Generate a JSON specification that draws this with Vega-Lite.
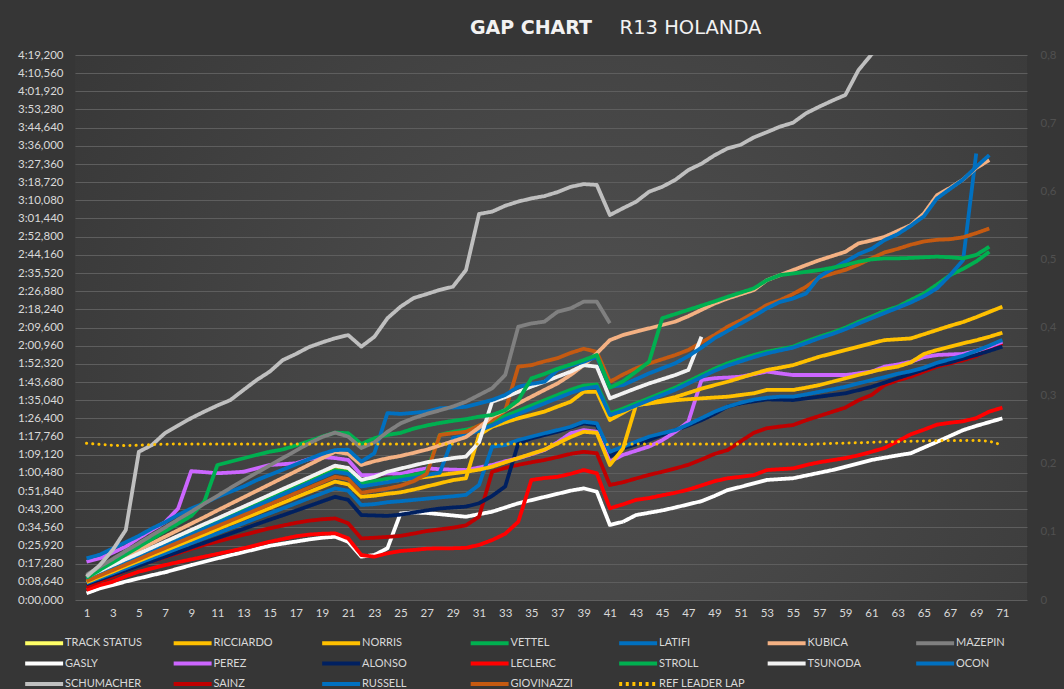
{
"$schema": "https://vega.github.io/schema/vega-lite/v6.json",
"width": 952, "height": 545,
"autosize": {"type": "none"},
"padding": {"left": 75, "top": 55, "right": 37, "bottom": 89},
"background": "#363636",
"config": {
  "view": {"stroke": null, "fill": {"gradient": "radial", "x1": 0.55, "y1": 0.55, "x2": 0.55, "y2": 0.55, "r1": 0, "r2": 0.8, "stops": [{"offset": 0, "color": "#515151"}, {"offset": 1, "color": "#323232"}]}},
  "font": "Lato"
},
"data": {"values": [
{"lap":1,"TS":0,"GASLY":3.2,"LECLERC":4.8,"SAINZ":6.3,"ALONSO":7.5,"PEREZ":18.2,"OCON":8,"NORRIS":8.5,"RICCIARDO":10.5,"STROLL":10,"LATIFI":9.5,"GIOVINAZZI":9,"KUBICA":11.5,"TSUNODA":11,"RUSSELL":19.8,"VETTEL":10.5,"MAZEPIN":12,"SCHUMACHER":11.1,"REF LEADER LAP":74.5},
{"lap":2,"TS":0,"GASLY":5.5,"LECLERC":7,"SAINZ":8.8,"ALONSO":9.7,"PEREZ":19.8,"OCON":10.4,"NORRIS":11,"RICCIARDO":13.2,"STROLL":12.7,"LATIFI":12.2,"GIOVINAZZI":11.6,"KUBICA":14.6,"TSUNODA":13.8,"RUSSELL":21.5,"VETTEL":14.2,"MAZEPIN":15.8,"SCHUMACHER":16.5,"REF LEADER LAP":74},
{"lap":3,"TS":0,"GASLY":7.1,"LECLERC":8.7,"SAINZ":11.1,"ALONSO":11.9,"PEREZ":22.5,"OCON":12.7,"NORRIS":13.5,"RICCIARDO":16,"STROLL":15.5,"LATIFI":14.9,"GIOVINAZZI":14.2,"KUBICA":17.7,"TSUNODA":16.6,"RUSSELL":24.5,"VETTEL":17.9,"MAZEPIN":19.5,"SCHUMACHER":23.8,"REF LEADER LAP":73.6},
{"lap":4,"TS":0,"GASLY":8.8,"LECLERC":11.3,"SAINZ":14,"ALONSO":14.1,"PEREZ":25.4,"OCON":15.1,"NORRIS":16.1,"RICCIARDO":18.7,"STROLL":18.2,"LATIFI":17.6,"GIOVINAZZI":16.8,"KUBICA":20.8,"TSUNODA":19.4,"RUSSELL":27.5,"VETTEL":21.6,"MAZEPIN":23.3,"SCHUMACHER":33.3,"REF LEADER LAP":73.4},
{"lap":5,"TS":0,"GASLY":10.3,"LECLERC":13.5,"SAINZ":16.6,"ALONSO":16.3,"PEREZ":29.5,"OCON":17.5,"NORRIS":18.6,"RICCIARDO":21.5,"STROLL":20.9,"LATIFI":20.3,"GIOVINAZZI":19.4,"KUBICA":23.9,"TSUNODA":22.1,"RUSSELL":30.5,"VETTEL":25.3,"MAZEPIN":27,"SCHUMACHER":70.5,"REF LEADER LAP":73.6},
{"lap":6,"TS":0,"GASLY":11.8,"LECLERC":15,"SAINZ":18.5,"ALONSO":18.5,"PEREZ":33.3,"OCON":19.9,"NORRIS":21.1,"RICCIARDO":24.2,"STROLL":23.6,"LATIFI":23.1,"GIOVINAZZI":22.1,"KUBICA":27,"TSUNODA":24.9,"RUSSELL":34,"VETTEL":29,"MAZEPIN":30.8,"SCHUMACHER":73.7,"REF LEADER LAP":73.9},
{"lap":7,"TS":0,"GASLY":13.2,"LECLERC":16.6,"SAINZ":20.3,"ALONSO":20.6,"PEREZ":37,"OCON":22.2,"NORRIS":23.6,"RICCIARDO":27,"STROLL":26.4,"LATIFI":25.8,"GIOVINAZZI":24.7,"KUBICA":30.1,"TSUNODA":27.7,"RUSSELL":37,"VETTEL":32.7,"MAZEPIN":34.5,"SCHUMACHER":79.4,"REF LEADER LAP":74.1},
{"lap":8,"TS":0,"GASLY":14.9,"LECLERC":18,"SAINZ":22.3,"ALONSO":22.8,"PEREZ":43.5,"OCON":24.6,"NORRIS":26.1,"RICCIARDO":29.7,"STROLL":29.1,"LATIFI":28.5,"GIOVINAZZI":27.3,"KUBICA":33.2,"TSUNODA":30.5,"RUSSELL":40.5,"VETTEL":36.4,"MAZEPIN":38.3,"SCHUMACHER":83,"REF LEADER LAP":74.2},
{"lap":9,"TS":0,"GASLY":16.6,"LECLERC":19.3,"SAINZ":24.3,"ALONSO":25,"PEREZ":61.3,"OCON":27,"NORRIS":28.6,"RICCIARDO":32.4,"STROLL":31.8,"LATIFI":31.2,"GIOVINAZZI":29.9,"KUBICA":36.3,"TSUNODA":33.3,"RUSSELL":43.5,"VETTEL":40,"MAZEPIN":42,"SCHUMACHER":86.5,"REF LEADER LAP":74.2},
{"lap":10,"TS":0,"GASLY":18.2,"LECLERC":20.6,"SAINZ":26.2,"ALONSO":27.2,"PEREZ":60.8,"OCON":29.4,"NORRIS":31.1,"RICCIARDO":35.2,"STROLL":34.5,"LATIFI":33.9,"GIOVINAZZI":32.5,"KUBICA":39.4,"TSUNODA":36.1,"RUSSELL":46,"VETTEL":46.8,"MAZEPIN":45.8,"SCHUMACHER":89.6,"REF LEADER LAP":74.2},
{"lap":11,"TS":0,"GASLY":19.8,"LECLERC":21.9,"SAINZ":27.8,"ALONSO":29.4,"PEREZ":60.3,"OCON":31.7,"NORRIS":33.7,"RICCIARDO":37.9,"STROLL":37.3,"LATIFI":36.6,"GIOVINAZZI":35.1,"KUBICA":42.6,"TSUNODA":38.8,"RUSSELL":49,"VETTEL":64.2,"MAZEPIN":49.5,"SCHUMACHER":92.5,"REF LEADER LAP":74.2},
{"lap":12,"TS":0,"GASLY":21.3,"LECLERC":23.2,"SAINZ":29.4,"ALONSO":31.6,"PEREZ":60.6,"OCON":34.1,"NORRIS":36.2,"RICCIARDO":40.7,"STROLL":40,"LATIFI":39.3,"GIOVINAZZI":37.7,"KUBICA":45.7,"TSUNODA":41.6,"RUSSELL":51.5,"VETTEL":65.8,"MAZEPIN":53.3,"SCHUMACHER":95.1,"REF LEADER LAP":74.2},
{"lap":13,"TS":0,"GASLY":22.8,"LECLERC":24.6,"SAINZ":31,"ALONSO":33.8,"PEREZ":61,"OCON":36.5,"NORRIS":38.7,"RICCIARDO":43.4,"STROLL":42.7,"LATIFI":42,"GIOVINAZZI":40.3,"KUBICA":48.8,"TSUNODA":44.4,"RUSSELL":54,"VETTEL":67.4,"MAZEPIN":57,"SCHUMACHER":99.9,"REF LEADER LAP":74.2},
{"lap":14,"TS":0,"GASLY":24.3,"LECLERC":26.1,"SAINZ":32.5,"ALONSO":36,"PEREZ":62.6,"OCON":38.9,"NORRIS":41.2,"RICCIARDO":46.2,"STROLL":45.4,"LATIFI":44.7,"GIOVINAZZI":42.9,"KUBICA":51.9,"TSUNODA":47.2,"RUSSELL":57,"VETTEL":69,"MAZEPIN":60.5,"SCHUMACHER":104.6,"REF LEADER LAP":74.2},
{"lap":15,"TS":0,"GASLY":25.8,"LECLERC":27.7,"SAINZ":34.1,"ALONSO":38.2,"PEREZ":64.2,"OCON":41.2,"NORRIS":43.7,"RICCIARDO":48.9,"STROLL":48.2,"LATIFI":47.4,"GIOVINAZZI":45.5,"KUBICA":55,"TSUNODA":50,"RUSSELL":59.5,"VETTEL":70.5,"MAZEPIN":64,"SCHUMACHER":108.6,"REF LEADER LAP":74.2},
{"lap":16,"TS":0,"GASLY":26.8,"LECLERC":29,"SAINZ":35.4,"ALONSO":40.3,"PEREZ":64.6,"OCON":43.6,"NORRIS":46.2,"RICCIARDO":51.6,"STROLL":50.9,"LATIFI":50.2,"GIOVINAZZI":48.2,"KUBICA":58.1,"TSUNODA":52.8,"RUSSELL":62,"VETTEL":71.6,"MAZEPIN":67.5,"SCHUMACHER":114.1,"REF LEADER LAP":74.2},
{"lap":17,"TS":0,"GASLY":27.8,"LECLERC":30.3,"SAINZ":36.7,"ALONSO":42.5,"PEREZ":65,"OCON":46,"NORRIS":48.8,"RICCIARDO":54.4,"STROLL":53.6,"LATIFI":52.9,"GIOVINAZZI":50.8,"KUBICA":61.2,"TSUNODA":55.5,"RUSSELL":64.5,"VETTEL":73.5,"MAZEPIN":71,"SCHUMACHER":117,"REF LEADER LAP":74.2},
{"lap":18,"TS":0,"GASLY":28.8,"LECLERC":31.1,"SAINZ":37.7,"ALONSO":44.7,"PEREZ":67,"OCON":48.4,"NORRIS":51.3,"RICCIARDO":57.1,"STROLL":56.3,"LATIFI":55.6,"GIOVINAZZI":53.4,"KUBICA":64.3,"TSUNODA":58.3,"RUSSELL":67,"VETTEL":75.5,"MAZEPIN":74.5,"SCHUMACHER":120.3,"REF LEADER LAP":74.2},
{"lap":19,"TS":0,"GASLY":29.6,"LECLERC":31.5,"SAINZ":38.4,"ALONSO":46.9,"PEREZ":68,"OCON":50.7,"NORRIS":53.8,"RICCIARDO":59.9,"STROLL":59.1,"LATIFI":58.3,"GIOVINAZZI":56,"KUBICA":67.4,"TSUNODA":61.1,"RUSSELL":69.5,"VETTEL":77.7,"MAZEPIN":77.5,"SCHUMACHER":122.5,"REF LEADER LAP":74.2},
{"lap":20,"TS":0,"GASLY":30.1,"LECLERC":31.7,"SAINZ":38.8,"ALONSO":49.1,"PEREZ":67.5,"OCON":53.1,"NORRIS":56.3,"RICCIARDO":62.6,"STROLL":61.8,"LATIFI":61,"GIOVINAZZI":58.6,"KUBICA":70.5,"TSUNODA":63.9,"RUSSELL":71.3,"VETTEL":79.6,"MAZEPIN":79.6,"SCHUMACHER":124.5,"REF LEADER LAP":74.2},
{"lap":21,"TS":0,"GASLY":27.7,"LECLERC":29.3,"SAINZ":36.5,"ALONSO":47.6,"PEREZ":66.6,"OCON":52,"NORRIS":55,"RICCIARDO":61.5,"STROLL":61,"LATIFI":60,"GIOVINAZZI":57.5,"KUBICA":69.5,"TSUNODA":62.8,"RUSSELL":71.5,"VETTEL":79.3,"MAZEPIN":77.7,"SCHUMACHER":126,"REF LEADER LAP":74.2},
{"lap":22,"TS":0,"GASLY":20.6,"LECLERC":21.4,"SAINZ":29.3,"ALONSO":40.4,"PEREZ":59.4,"OCON":45.2,"NORRIS":49.1,"RICCIARDO":55,"STROLL":55.5,"LATIFI":54,"GIOVINAZZI":51,"KUBICA":64.2,"TSUNODA":57.1,"RUSSELL":65.8,"VETTEL":74.2,"MAZEPIN":72.3,"SCHUMACHER":120.5,"REF LEADER LAP":74.2},
{"lap":23,"TS":0,"GASLY":21.4,"LECLERC":20.6,"SAINZ":29.6,"ALONSO":40.2,"PEREZ":59.4,"OCON":45.6,"NORRIS":49.6,"RICCIARDO":55.8,"STROLL":56.5,"LATIFI":55,"GIOVINAZZI":52,"KUBICA":66,"TSUNODA":58.5,"RUSSELL":69.8,"VETTEL":76.9,"MAZEPIN":75,"SCHUMACHER":125.2,"REF LEADER LAP":74.2},
{"lap":24,"TS":0,"GASLY":24.6,"LECLERC":22.2,"SAINZ":30,"ALONSO":40,"PEREZ":60.3,"OCON":46.5,"NORRIS":50.5,"RICCIARDO":56.8,"STROLL":57.7,"LATIFI":56,"GIOVINAZZI":53,"KUBICA":67.4,"TSUNODA":61,"RUSSELL":88.9,"VETTEL":78.5,"MAZEPIN":80,"SCHUMACHER":134,"REF LEADER LAP":74.2},
{"lap":25,"TS":0,"GASLY":41.2,"LECLERC":23.3,"SAINZ":30.5,"ALONSO":40.6,"PEREZ":60,"OCON":47,"NORRIS":51.2,"RICCIARDO":57,"STROLL":58.5,"LATIFI":57,"GIOVINAZZI":54.3,"KUBICA":68.5,"TSUNODA":62.5,"RUSSELL":88.5,"VETTEL":79.5,"MAZEPIN":84,"SCHUMACHER":139.5,"REF LEADER LAP":74.2},
{"lap":26,"TS":0,"GASLY":41.6,"LECLERC":23.8,"SAINZ":31.6,"ALONSO":41.6,"PEREZ":61.5,"OCON":47.6,"NORRIS":52.5,"RICCIARDO":57.8,"STROLL":59.5,"LATIFI":58,"GIOVINAZZI":56.5,"KUBICA":70,"TSUNODA":64,"RUSSELL":89,"VETTEL":81.5,"MAZEPIN":86.5,"SCHUMACHER":143.6,"REF LEADER LAP":74.2},
{"lap":27,"TS":0,"GASLY":41.4,"LECLERC":24.4,"SAINZ":32.8,"ALONSO":42.6,"PEREZ":62.6,"OCON":48.2,"NORRIS":54,"RICCIARDO":58.6,"STROLL":61,"LATIFI":59.5,"GIOVINAZZI":60,"KUBICA":71.5,"TSUNODA":65.5,"RUSSELL":89.6,"VETTEL":83,"MAZEPIN":88.5,"SCHUMACHER":145.5,"REF LEADER LAP":74.2},
{"lap":28,"TS":0,"GASLY":40.8,"LECLERC":24.6,"SAINZ":33.6,"ALONSO":43.5,"PEREZ":62.2,"OCON":48.8,"NORRIS":55.5,"RICCIARDO":59.4,"STROLL":78.5,"LATIFI":60.5,"GIOVINAZZI":78.5,"KUBICA":73.5,"TSUNODA":66.5,"RUSSELL":91.2,"VETTEL":84.2,"MAZEPIN":90.2,"SCHUMACHER":147.5,"REF LEADER LAP":74.2},
{"lap":29,"TS":0,"GASLY":40.2,"LECLERC":24.6,"SAINZ":34.4,"ALONSO":44,"PEREZ":62,"OCON":49.3,"NORRIS":57,"RICCIARDO":60.2,"STROLL":80,"LATIFI":77,"GIOVINAZZI":79.3,"KUBICA":75.5,"TSUNODA":67.5,"RUSSELL":91.5,"VETTEL":85.2,"MAZEPIN":92,"SCHUMACHER":149,"REF LEADER LAP":74.2},
{"lap":30,"TS":0,"GASLY":39.6,"LECLERC":24.8,"SAINZ":35.5,"ALONSO":44.4,"PEREZ":61.8,"OCON":50,"NORRIS":57.9,"RICCIARDO":61,"STROLL":81,"LATIFI":78.5,"GIOVINAZZI":80,"KUBICA":77.5,"TSUNODA":68.2,"RUSSELL":91.9,"VETTEL":86,"MAZEPIN":94.3,"SCHUMACHER":156.9,"REF LEADER LAP":74.2},
{"lap":31,"TS":0,"GASLY":40.8,"LECLERC":26.2,"SAINZ":39.6,"ALONSO":46,"PEREZ":63,"OCON":54.7,"NORRIS":78.5,"RICCIARDO":62,"STROLL":82.5,"LATIFI":80.5,"GIOVINAZZI":83,"KUBICA":82,"TSUNODA":75,"RUSSELL":93.5,"VETTEL":87.2,"MAZEPIN":97.5,"SCHUMACHER":183.6,"REF LEADER LAP":74.2},
{"lap":32,"TS":0,"GASLY":42,"LECLERC":28.5,"SAINZ":61,"ALONSO":49.5,"PEREZ":64.2,"OCON":72.9,"NORRIS":82.4,"RICCIARDO":63.4,"STROLL":85,"LATIFI":83,"GIOVINAZZI":85.5,"KUBICA":87.2,"TSUNODA":94.3,"RUSSELL":95.1,"VETTEL":88,"MAZEPIN":100.7,"SCHUMACHER":184.7,"REF LEADER LAP":74.2},
{"lap":33,"TS":0,"GASLY":44,"LECLERC":31.5,"SAINZ":62.8,"ALONSO":54,"PEREZ":66,"OCON":73.7,"NORRIS":84.5,"RICCIARDO":65.5,"STROLL":87.5,"LATIFI":86,"GIOVINAZZI":90,"KUBICA":90.3,"TSUNODA":96.5,"RUSSELL":97.5,"VETTEL":90.3,"MAZEPIN":107,"SCHUMACHER":187.5,"REF LEADER LAP":74.2},
{"lap":34,"TS":0,"GASLY":46,"LECLERC":37.2,"SAINZ":64.3,"ALONSO":74.5,"PEREZ":67.4,"OCON":76.1,"NORRIS":86.4,"RICCIARDO":67.5,"STROLL":90,"LATIFI":88.5,"GIOVINAZZI":111,"KUBICA":93.5,"TSUNODA":99,"RUSSELL":101.4,"VETTEL":95,"MAZEPIN":130,"SCHUMACHER":189.5,"REF LEADER LAP":74.2},
{"lap":35,"TS":0,"GASLY":47.5,"LECLERC":57.1,"SAINZ":65.5,"ALONSO":76.9,"PEREZ":69.3,"OCON":77.7,"NORRIS":88,"RICCIARDO":69.5,"STROLL":92.5,"LATIFI":91,"GIOVINAZZI":111.7,"KUBICA":96.7,"TSUNODA":101.5,"RUSSELL":102.8,"VETTEL":105.4,"MAZEPIN":131.5,"SCHUMACHER":191,"REF LEADER LAP":74.2},
{"lap":36,"TS":0,"GASLY":49,"LECLERC":58,"SAINZ":66.6,"ALONSO":78.5,"PEREZ":71.3,"OCON":79.3,"NORRIS":89.6,"RICCIARDO":71.5,"STROLL":95,"LATIFI":93.5,"GIOVINAZZI":113.5,"KUBICA":99.9,"TSUNODA":103.8,"RUSSELL":103.8,"VETTEL":107.5,"MAZEPIN":132.4,"SCHUMACHER":192.1,"REF LEADER LAP":74.2},
{"lap":37,"TS":0,"GASLY":50.5,"LECLERC":58.6,"SAINZ":68,"ALONSO":80,"PEREZ":75,"OCON":80.8,"NORRIS":92,"RICCIARDO":74.5,"STROLL":97.5,"LATIFI":96,"GIOVINAZZI":115,"KUBICA":103,"TSUNODA":106.2,"RUSSELL":109.4,"VETTEL":110,"MAZEPIN":137.1,"SCHUMACHER":194,"REF LEADER LAP":74.2},
{"lap":38,"TS":0,"GASLY":52,"LECLERC":60,"SAINZ":69.5,"ALONSO":82,"PEREZ":79.3,"OCON":82.4,"NORRIS":94.3,"RICCIARDO":77.5,"STROLL":100,"LATIFI":98.5,"GIOVINAZZI":117.5,"KUBICA":107,"TSUNODA":108.6,"RUSSELL":111.5,"VETTEL":112,"MAZEPIN":138.7,"SCHUMACHER":196.5,"REF LEADER LAP":74.2},
{"lap":39,"TS":0,"GASLY":53.1,"LECLERC":61.8,"SAINZ":70.5,"ALONSO":84,"PEREZ":80.8,"OCON":84.8,"NORRIS":99,"RICCIARDO":80,"STROLL":102,"LATIFI":100.5,"GIOVINAZZI":119.5,"KUBICA":111.7,"TSUNODA":111.7,"RUSSELL":113.3,"VETTEL":114.1,"MAZEPIN":141.9,"SCHUMACHER":197.8,"REF LEADER LAP":74.2},
{"lap":40,"TS":0,"GASLY":51.5,"LECLERC":60.3,"SAINZ":69.8,"ALONSO":83.2,"PEREZ":80,"OCON":84,"NORRIS":99,"RICCIARDO":79.5,"STROLL":102.5,"LATIFI":101.5,"GIOVINAZZI":118,"KUBICA":117.3,"TSUNODA":111,"RUSSELL":115.7,"VETTEL":116.5,"MAZEPIN":141.9,"SCHUMACHER":197.4,"REF LEADER LAP":74},
{"lap":41,"TS":0,"GASLY":35.7,"LECLERC":43.6,"SAINZ":54.7,"ALONSO":68.2,"PEREZ":65.8,"OCON":70.5,"NORRIS":85.6,"RICCIARDO":64.2,"STROLL":88.8,"LATIFI":88,"GIOVINAZZI":103.8,"KUBICA":123.6,"TSUNODA":95.9,"RUSSELL":101.4,"VETTEL":101,"MAZEPIN":131.6,"SCHUMACHER":183.1,"REF LEADER LAP":74},
{"lap":42,"TS":0,"GASLY":37.2,"LECLERC":45.5,"SAINZ":56,"ALONSO":72.1,"PEREZ":69,"OCON":72.9,"NORRIS":89,"RICCIARDO":72,"STROLL":91,"LATIFI":90,"GIOVINAZZI":107.2,"KUBICA":126,"TSUNODA":98.3,"RUSSELL":102.2,"VETTEL":104,"SCHUMACHER":186.3,"REF LEADER LAP":74.2},
{"lap":43,"TS":0,"GASLY":40.4,"LECLERC":47.6,"SAINZ":57.8,"ALONSO":74,"PEREZ":71,"OCON":75.3,"NORRIS":92.7,"RICCIARDO":92.7,"STROLL":93.5,"LATIFI":92.5,"GIOVINAZZI":110.2,"KUBICA":127.6,"TSUNODA":100.7,"RUSSELL":105,"VETTEL":108.6,"SCHUMACHER":189.4,"REF LEADER LAP":74.2},
{"lap":44,"TS":0,"GASLY":41.5,"LECLERC":48.5,"SAINZ":59.5,"ALONSO":76.1,"PEREZ":73,"OCON":77.7,"NORRIS":93.5,"RICCIARDO":93.5,"STROLL":96,"LATIFI":95,"GIOVINAZZI":112.5,"KUBICA":129.2,"TSUNODA":103,"RUSSELL":107.8,"VETTEL":113.3,"SCHUMACHER":194.2,"REF LEADER LAP":74.2},
{"lap":45,"TS":0,"GASLY":42.6,"LECLERC":49.8,"SAINZ":61,"ALONSO":78.5,"PEREZ":76,"OCON":79.3,"NORRIS":94.3,"RICCIARDO":95,"STROLL":98.5,"LATIFI":97.5,"GIOVINAZZI":114.5,"KUBICA":130.8,"TSUNODA":105,"RUSSELL":110.2,"VETTEL":134,"SCHUMACHER":196.5,"REF LEADER LAP":74.2},
{"lap":46,"TS":0,"GASLY":44,"LECLERC":51,"SAINZ":62.6,"ALONSO":80.8,"PEREZ":80,"OCON":80.8,"NORRIS":95,"RICCIARDO":96.5,"STROLL":101,"LATIFI":100,"GIOVINAZZI":116.5,"KUBICA":132.4,"TSUNODA":107,"RUSSELL":112.6,"VETTEL":136,"SCHUMACHER":199.8,"REF LEADER LAP":74.2},
{"lap":47,"TS":0,"GASLY":45.5,"LECLERC":52.5,"SAINZ":64.3,"ALONSO":83,"PEREZ":84.8,"OCON":83.5,"NORRIS":95.5,"RICCIARDO":98.5,"STROLL":104,"LATIFI":103,"GIOVINAZZI":118.9,"KUBICA":135,"TSUNODA":109.4,"RUSSELL":116,"VETTEL":138,"SCHUMACHER":204.5,"REF LEADER LAP":74.2},
{"lap":48,"TS":0,"GASLY":47,"LECLERC":54.5,"SAINZ":66.8,"ALONSO":85.5,"PEREZ":104.6,"OCON":86.5,"NORRIS":95.9,"RICCIARDO":100.5,"STROLL":107,"LATIFI":106,"GIOVINAZZI":122.5,"KUBICA":138,"TSUNODA":125.2,"RUSSELL":120,"VETTEL":140,"SCHUMACHER":207.5,"REF LEADER LAP":74.2},
{"lap":49,"TS":0,"GASLY":49.5,"LECLERC":56.5,"SAINZ":69.5,"ALONSO":88.5,"PEREZ":105.5,"OCON":89.5,"NORRIS":96.3,"RICCIARDO":102.2,"STROLL":110,"LATIFI":109,"GIOVINAZZI":126,"KUBICA":141,"RUSSELL":124.5,"VETTEL":142,"SCHUMACHER":211.5,"REF LEADER LAP":74.2},
{"lap":50,"TS":0,"GASLY":52.3,"LECLERC":57.9,"SAINZ":71.3,"ALONSO":92,"PEREZ":105.8,"OCON":92,"NORRIS":96.7,"RICCIARDO":103.8,"STROLL":112.6,"LATIFI":111.5,"GIOVINAZZI":130,"KUBICA":143.4,"RUSSELL":128,"VETTEL":144.2,"SCHUMACHER":214.8,"REF LEADER LAP":74.2},
{"lap":51,"TS":0,"GASLY":53.8,"LECLERC":58.6,"SAINZ":75.5,"ALONSO":93.5,"PEREZ":106.2,"OCON":93.8,"NORRIS":97.5,"RICCIARDO":105.7,"STROLL":114.6,"LATIFI":113.5,"GIOVINAZZI":133,"KUBICA":145.4,"RUSSELL":131.5,"VETTEL":146.2,"SCHUMACHER":216.5,"REF LEADER LAP":74.2},
{"lap":52,"TS":0,"GASLY":55.5,"LECLERC":59.4,"SAINZ":79.5,"ALONSO":94.5,"PEREZ":107.4,"OCON":95.3,"NORRIS":98.3,"RICCIARDO":107.6,"STROLL":116.5,"LATIFI":115.5,"GIOVINAZZI":136.5,"KUBICA":147.4,"RUSSELL":135,"VETTEL":148.2,"SCHUMACHER":220,"REF LEADER LAP":74.2},
{"lap":53,"TS":0,"GASLY":57.1,"LECLERC":61.8,"SAINZ":81.7,"ALONSO":95.4,"PEREZ":108.6,"OCON":96.2,"NORRIS":99.9,"RICCIARDO":109.4,"STROLL":118.1,"LATIFI":117.3,"GIOVINAZZI":140.3,"KUBICA":152.1,"RUSSELL":138.7,"VETTEL":152.1,"SCHUMACHER":222.5,"REF LEADER LAP":74.2},
{"lap":54,"TS":0,"GASLY":57.5,"LECLERC":62.2,"SAINZ":82.5,"ALONSO":95.3,"PEREZ":107.8,"OCON":96.7,"NORRIS":99.9,"RICCIARDO":110.5,"STROLL":119.3,"LATIFI":118.7,"GIOVINAZZI":142.6,"KUBICA":154.5,"RUSSELL":141.8,"VETTEL":154.5,"SCHUMACHER":225.1,"REF LEADER LAP":74.2},
{"lap":55,"TS":0,"GASLY":57.9,"LECLERC":62.6,"SAINZ":83.2,"ALONSO":95.1,"PEREZ":107,"OCON":96.7,"NORRIS":99.9,"RICCIARDO":111.7,"STROLL":120.5,"LATIFI":120,"GIOVINAZZI":145.5,"KUBICA":156.9,"RUSSELL":143.4,"VETTEL":155.3,"SCHUMACHER":227,"REF LEADER LAP":74.2},
{"lap":56,"TS":0,"GASLY":59.2,"LECLERC":64.2,"SAINZ":85.5,"ALONSO":95.9,"PEREZ":107,"OCON":97.8,"NORRIS":101,"RICCIARDO":113.7,"STROLL":123,"LATIFI":122.2,"GIOVINAZZI":149,"KUBICA":159.3,"RUSSELL":145.8,"VETTEL":156.1,"SCHUMACHER":231.5,"REF LEADER LAP":74},
{"lap":57,"TS":0,"GASLY":60.5,"LECLERC":65.5,"SAINZ":87.5,"ALONSO":96.7,"PEREZ":107,"OCON":99,"NORRIS":102.2,"RICCIARDO":115.7,"STROLL":125.2,"LATIFI":124.5,"GIOVINAZZI":153.4,"KUBICA":161.6,"RUSSELL":153.7,"VETTEL":156.9,"SCHUMACHER":234.6,"REF LEADER LAP":74.2},
{"lap":58,"TS":0,"GASLY":61.8,"LECLERC":66.5,"SAINZ":89.5,"ALONSO":97.5,"PEREZ":107,"OCON":100.2,"NORRIS":103.8,"RICCIARDO":117.3,"STROLL":127.2,"LATIFI":126.5,"GIOVINAZZI":155.2,"KUBICA":163.6,"RUSSELL":157.5,"VETTEL":158,"SCHUMACHER":237.5,"REF LEADER LAP":74.5},
{"lap":59,"TS":0,"GASLY":63.4,"LECLERC":67.5,"SAINZ":91.5,"ALONSO":98.3,"PEREZ":107,"OCON":101.4,"NORRIS":105.4,"RICCIARDO":118.9,"STROLL":129.5,"LATIFI":128.8,"GIOVINAZZI":157,"KUBICA":165.6,"RUSSELL":160.9,"VETTEL":159.3,"SCHUMACHER":240.2,"REF LEADER LAP":74.6},
{"lap":60,"TS":0,"GASLY":65,"LECLERC":68.8,"SAINZ":95,"ALONSO":99.8,"PEREZ":107.8,"OCON":103,"NORRIS":107,"RICCIARDO":120.5,"STROLL":132.3,"LATIFI":131.5,"GIOVINAZZI":159.5,"KUBICA":169.6,"RUSSELL":164.5,"VETTEL":160.9,"SCHUMACHER":252,"REF LEADER LAP":74.8},
{"lap":61,"TS":0,"GASLY":66.6,"LECLERC":70.5,"SAINZ":97.5,"ALONSO":101.4,"PEREZ":108.6,"OCON":104.6,"NORRIS":108.6,"RICCIARDO":122.1,"STROLL":134.8,"LATIFI":134,"GIOVINAZZI":162.5,"KUBICA":171,"RUSSELL":167,"VETTEL":162,"SCHUMACHER":259.5,"REF LEADER LAP":75},
{"lap":62,"TS":0,"GASLY":67.7,"LECLERC":72.3,"SAINZ":102.2,"ALONSO":103.4,"PEREZ":111,"OCON":106,"NORRIS":110,"RICCIARDO":123.6,"STROLL":137.5,"LATIFI":136.5,"GIOVINAZZI":165.3,"KUBICA":172.7,"RUSSELL":171.2,"VETTEL":162.5,"SCHUMACHER":265,"REF LEADER LAP":75.2},
{"lap":63,"TS":0,"GASLY":68.8,"LECLERC":75.5,"SAINZ":104.5,"ALONSO":105.5,"PEREZ":112,"OCON":107.6,"NORRIS":111,"RICCIARDO":124,"STROLL":139.5,"LATIFI":139,"GIOVINAZZI":167,"KUBICA":175.5,"RUSSELL":174,"VETTEL":162.5,"SCHUMACHER":268,"REF LEADER LAP":75.3},
{"lap":64,"TS":0,"GASLY":69.8,"LECLERC":78.8,"SAINZ":106.2,"ALONSO":107.5,"PEREZ":113.3,"OCON":108.8,"NORRIS":113,"RICCIARDO":124.4,"STROLL":142.7,"LATIFI":141.5,"GIOVINAZZI":169,"KUBICA":178.3,"RUSSELL":178,"VETTEL":162.7,"SCHUMACHER":272,"REF LEADER LAP":75.5},
{"lap":65,"TS":0,"GASLY":72.5,"LECLERC":81,"SAINZ":108.6,"ALONSO":109.6,"PEREZ":115.5,"OCON":110.5,"NORRIS":117,"RICCIARDO":126.4,"STROLL":145.8,"LATIFI":144.5,"GIOVINAZZI":170.5,"KUBICA":183.8,"RUSSELL":182.5,"VETTEL":163,"SCHUMACHER":276,"REF LEADER LAP":75.6},
{"lap":66,"TS":0,"GASLY":75.2,"LECLERC":83.4,"SAINZ":111,"ALONSO":111.7,"PEREZ":116.5,"OCON":112.8,"NORRIS":118.9,"RICCIARDO":128.4,"STROLL":150,"LATIFI":148.2,"GIOVINAZZI":171.3,"KUBICA":192.5,"RUSSELL":191,"VETTEL":163.3,"SCHUMACHER":280,"REF LEADER LAP":75.8},
{"lap":67,"TS":0,"GASLY":78,"LECLERC":84.3,"SAINZ":112.5,"ALONSO":113,"PEREZ":116.8,"OCON":114.5,"NORRIS":120.5,"RICCIARDO":130.4,"STROLL":154.5,"LATIFI":154.5,"GIOVINAZZI":171.6,"KUBICA":196,"RUSSELL":195.5,"VETTEL":163,"SCHUMACHER":284,"REF LEADER LAP":75.8},
{"lap":68,"TS":0,"GASLY":80.8,"LECLERC":85,"SAINZ":114,"ALONSO":114.8,"PEREZ":117,"OCON":116.2,"NORRIS":122.1,"RICCIARDO":132.2,"STROLL":157.5,"LATIFI":161.7,"GIOVINAZZI":172.5,"KUBICA":200,"RUSSELL":200,"VETTEL":162.5,"SCHUMACHER":288,"REF LEADER LAP":75.8},
{"lap":69,"TS":0,"GASLY":82.8,"LECLERC":86.5,"SAINZ":116,"ALONSO":116.5,"PEREZ":118.5,"OCON":118.5,"NORRIS":123.5,"RICCIARDO":134.5,"STROLL":161,"LATIFI":212.4,"GIOVINAZZI":174.5,"KUBICA":205.5,"RUSSELL":206,"VETTEL":164.1,"SCHUMACHER":292,"REF LEADER LAP":75.9},
{"lap":70,"TS":0,"GASLY":84.6,"LECLERC":89.6,"SAINZ":119,"ALONSO":118.5,"PEREZ":120.5,"OCON":121,"NORRIS":125.2,"RICCIARDO":137,"STROLL":165.6,"GIOVINAZZI":176.7,"KUBICA":209.2,"RUSSELL":211.6,"VETTEL":168,"REF LEADER LAP":75.5},
{"lap":71,"TS":0,"GASLY":86.4,"LECLERC":91.5,"SAINZ":122.1,"ALONSO":120.5,"PEREZ":122.8,"OCON":123.7,"NORRIS":127.1,"RICCIARDO":139.5,"REF LEADER LAP":73.7}
]},
"encoding": {
  "x": {"field": "lap", "type": "quantitative", "scale": {"domain": [0.5, 72.5], "nice": false, "zero": false},
        "axis": {"values": [1,3,5,7,9,11,13,15,17,19,21,23,25,27,29,31,33,35,37,39,41,43,45,47,49,51,53,55,57,59,61,63,65,67,69,71], "format": "d", "grid": false, "domain": false, "ticks": false, "labelColor": "#D9D9D9", "labelFontSize": 11.5, "labelFont": "Lato", "labelPadding": 7, "title": null}}
},
"layer": [
  {"mark": {"type": "bar", "color": "#FFFF66"},
   "encoding": {"y": {"field": "TS", "type": "quantitative", "scale": {"domain": [0, 0.8], "nice": false},
     "axis": {"orient": "right", "values": [0,0.1,0.2,0.3,0.4,0.5,0.6,0.7,0.8], "labelExpr": "replace(format(datum.value, '.1~f'), '.', ',')", "grid": false, "domain": false, "ticks": false, "labelColor": "#505050", "labelFontSize": 11.5, "labelFont": "Lato", "labelPadding": 13,
       "title": "R13 HOLANDA", "titleAngle": 0, "titleX": -337, "titleY": -22, "titleAlign": "center", "titleBaseline": "alphabetic", "titleFont": "DejaVu Sans", "titleFontSize": 19.5, "titleFontWeight": "normal", "titleColor": "#F2F2F2"}}}},
  {"transform": [{"fold": ["GASLY","LECLERC","SAINZ","ALONSO","PEREZ","OCON","NORRIS","RICCIARDO","STROLL","LATIFI","GIOVINAZZI","KUBICA","TSUNODA","RUSSELL","VETTEL","MAZEPIN","SCHUMACHER"], "as": ["driver", "gap"]}],
   "mark": {"type": "line", "strokeWidth": 3.8, "clip": true, "strokeJoin": "round"},
   "encoding": {
     "y": {"field": "gap", "type": "quantitative", "scale": {"domain": [0, 259.2], "nice": false},
       "axis": {"orient": "left", "values": [0,8.64,17.28,25.92,34.56,43.2,51.84,60.48,69.12,77.76,86.4,95.04,103.68,112.32,120.96,129.6,138.24,146.88,155.52,164.16,172.8,181.44,190.08,198.72,207.36,216,224.64,233.28,241.92,250.56,259.2],
         "labelExpr": "floor(round(datum.value*1000)/60000) + ':' + slice('0' + floor((round(datum.value*1000)%60000)/1000), -2) + ',' + slice('00' + (round(datum.value*1000)%1000), -3)",
         "grid": true, "gridColor": "#5E5E5E", "gridWidth": 1, "domain": false, "ticks": false, "labelColor": "#D9D9D9", "labelFontSize": 11.5, "labelFont": "Lato", "labelPadding": 12,
         "title": "GAP CHART", "titleAngle": 0, "titleX": 455.5, "titleY": -22, "titleAlign": "center", "titleBaseline": "alphabetic", "titleFont": "DejaVu Sans", "titleFontSize": 19, "titleFontWeight": "bold", "titleColor": "#F2F2F2"}},
     "color": {"field": "driver", "type": "nominal",
       "scale": {"domain": ["TRACK STATUS","RICCIARDO","NORRIS","VETTEL","LATIFI","KUBICA","MAZEPIN","GASLY","PEREZ","ALONSO","LECLERC","STROLL","TSUNODA","OCON","SCHUMACHER","SAINZ","RUSSELL","GIOVINAZZI","REF LEADER LAP"],
                 "range": ["#FFFF66","#FFC000","#FFC000","#00B050","#0070C0","#F4B183","#808080","#FFFFFF","#CC66FF","#002060","#FF0000","#00B050","#F2F2F2","#0070C0","#BFBFBF","#C00000","#0070C0","#C55A11","#FFC000"]},
       "legend": {"orient": "none", "legendX": -52, "legendY": 579.5, "direction": "horizontal", "columns": 7, "title": null, "symbolType": "M-1,0H5", "symbolSize": 160, "symbolStrokeWidth": 4, "labelColor": "#D9D9D9", "labelFontSize": 11, "labelFont": "Lato", "columnPadding": 14.5, "rowPadding": 3.5, "gridAlign": "all", "labelOffset": 25, "labelLimit": 130}},
     "strokeDash": {"field": "driver", "type": "nominal",
       "scale": {"domain": ["TRACK STATUS","RICCIARDO","NORRIS","VETTEL","LATIFI","KUBICA","MAZEPIN","GASLY","PEREZ","ALONSO","LECLERC","STROLL","TSUNODA","OCON","SCHUMACHER","SAINZ","RUSSELL","GIOVINAZZI","REF LEADER LAP"],
                 "range": [[1,0],[1,0],[1,0],[1,0],[1,0],[1,0],[1,0],[1,0],[1,0],[1,0],[1,0],[1,0],[1,0],[1,0],[1,0],[1,0],[1,0],[1,0],[3,3.6]]}}
   }},
  {"transform": [{"fold": ["REF LEADER LAP"], "as": ["driver", "gap"]}],
   "mark": {"type": "line", "strokeWidth": 3, "strokeCap": "round", "strokeDash": [0.1, 6.1], "clip": true},
   "encoding": {
     "y": {"field": "gap", "type": "quantitative", "scale": {"domain": [0, 259.2], "nice": false}, "axis": null},
     "color": {"field": "driver", "type": "nominal"}
   }}
],
"resolve": {"scale": {"y": "independent"}}
}
